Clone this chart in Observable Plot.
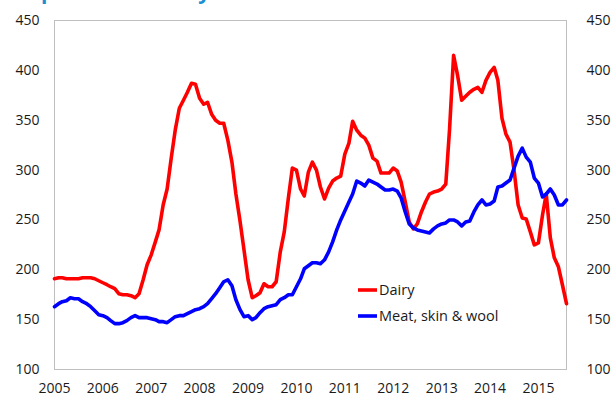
<!DOCTYPE html>
<html>
<head>
<meta charset="utf-8">
<script src="https://cdn.jsdelivr.net/npm/d3@7"></script>
<script src="https://cdn.jsdelivr.net/npm/@observablehq/plot@0.6"></script>
<style>
  html, body { margin: 0; padding: 0; background: #fff; overflow: hidden; }
  #wrap { position: relative; width: 611px; height: 401px; font-family: "Open Sans", sans-serif; }
  #overlay { position: absolute; left: 0; top: 0; pointer-events: none; }
</style>
</head>
<body>
<div id="wrap"></div>
<script>
// Monthly series, starting January 2005
const startYear = 2005;
const dairy = [
  191,192,192,191,191,191,191,192,192,192,191,189,
  187,185,183,181,176,175,175,174,172,176,190,205,
  215,228,240,265,281,312,340,362,370,378,387,386,
  372,366,368,356,350,347,347,330,308,276,249,220,
  190,172,174,177,186,183,183,188,218,238,272,302,
  300,281,274,298,308,300,283,271,282,289,292,294,
  316,327,349,340,335,332,325,312,309,297,297,297,
  302,299,288,268,248,241,246,258,268,276,278,279,
  281,286,340,415,395,370,374,378,381,383,378,390,
  398,403,390,352,336,328,300,265,252,251,238,225,
  227,255,276,232,212,203,185,166
];
const meat = [
  163,166,168,169,172,171,171,168,166,163,159,155,
  154,152,149,146,146,147,149,152,154,152,152,152,
  151,150,148,148,147,150,153,154,154,156,158,160,
  161,163,166,171,176,182,188,190,184,170,160,153,
  154,150,152,157,161,163,164,165,170,172,175,175,
  183,191,201,204,207,207,206,210,218,228,240,250,
  259,268,276,289,287,284,290,288,286,283,280,280,
  281,279,272,258,246,242,240,239,238,237,241,244,
  246,247,250,250,248,244,248,249,258,265,270,265,
  266,269,283,284,287,290,302,314,322,313,308,292,
  287,273,276,281,275,265,265,270
];
const seriesNames = ["Dairy", "Meat, skin & wool"];
const seriesColors = ["#ff0000", "#0000ff"];
const yTicks = [100, 150, 200, 250, 300, 350, 400, 450];
const yearTicks = [2005, 2006, 2007, 2008, 2009, 2010, 2011, 2012, 2013, 2014, 2015];

const month = i => new Date(Date.UTC(startYear, i, 1));
const rows = [];
dairy.forEach((v, i) => rows.push({date: month(i), value: v, series: seriesNames[0]}));
meat.forEach((v, i) => rows.push({date: month(i), value: v, series: seriesNames[1]}));

const chart = Plot.plot({
  width: 611,
  height: 401,
  marginLeft: 54,
  marginRight: 45,
  marginTop: 20,
  marginBottom: 32,
  style: {fontFamily: "Open Sans, sans-serif", fontSize: "14px", color: "#1a1a1a", background: "#fff"},
  x: {type: "utc", domain: [month(0), month(dairy.length - 1)]},
  y: {domain: [100, 450]},
  color: {domain: seriesNames, range: seriesColors},
  marks: [
    Plot.frame({stroke: "#bfbfbf", strokeWidth: 1}),
    Plot.axisY({ticks: yTicks, tickSize: 0, tickPadding: 15, label: null}),
    Plot.axisY({ticks: yTicks, anchor: "right", tickSize: 0, tickPadding: 20, label: null}),
    Plot.axisX({ticks: yearTicks.map(y => new Date(Date.UTC(y, 0, 1))), tickFormat: d => String(d.getUTCFullYear()), tickSize: 0, tickPadding: 14, label: null}),
    Plot.line(rows, {x: "date", y: "value", z: "series", stroke: "series", strokeWidth: 3.6, strokeLinejoin: "round"})
  ]
});
const wrap = document.getElementById("wrap");
wrap.appendChild(chart);

// Title (cropped at the top edge, as in the original) and legend overlay
const ns = "http://www.w3.org/2000/svg";
const ov = document.createElementNS(ns, "svg");
ov.setAttribute("id", "overlay");
ov.setAttribute("width", 611);
ov.setAttribute("height", 401);
const title = document.createElementNS(ns, "text");
title.setAttribute("x", 17);
title.setAttribute("y", -1);
title.setAttribute("fill", "#1b8fcf");
title.setAttribute("font-weight", "bold");
title.setAttribute("font-size", "21");
title.setAttribute("font-family", "Open Sans, sans-serif");
title.textContent = "Export commodity index";
ov.appendChild(title);

seriesNames.forEach((name, k) => {
  const y = 290 + k * 26;
  const ln = document.createElementNS(ns, "line");
  ln.setAttribute("x1", 358); ln.setAttribute("x2", 377);
  ln.setAttribute("y1", y); ln.setAttribute("y2", y);
  ln.setAttribute("stroke", seriesColors[k]);
  ln.setAttribute("stroke-width", 3.6);
  ov.appendChild(ln);
  const t = document.createElementNS(ns, "text");
  t.setAttribute("x", 379);
  t.setAttribute("y", y + 5);
  t.setAttribute("font-size", "14.5");
  t.setAttribute("font-family", "Open Sans, sans-serif");
  t.setAttribute("fill", "#1a1a1a");
  t.textContent = name;
  ov.appendChild(t);
});
wrap.appendChild(ov);
</script>
</body>
</html>
